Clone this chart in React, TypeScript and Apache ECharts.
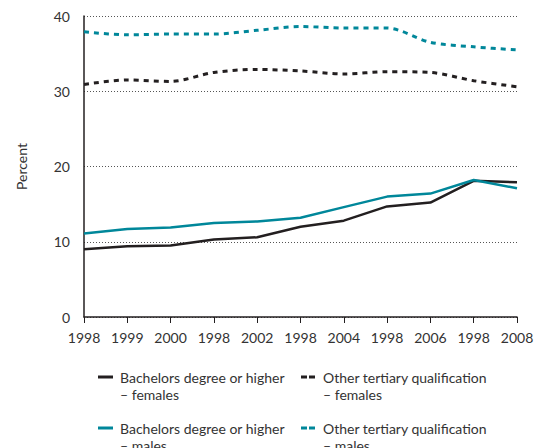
import React, { useEffect, useRef } from "react";
import * as echarts from "echarts";

const categories = ["1998", "1999", "2000", "1998", "2002", "1998", "2004", "1998", "2006", "1998", "2008"];
const bachelorsFemales = [9.0, 9.4, 9.5, 10.3, 10.6, 12.0, 12.8, 14.7, 15.2, 18.1, 17.9];
const bachelorsMales = [11.1, 11.7, 11.9, 12.5, 12.7, 13.2, 14.6, 16.0, 16.4, 18.2, 17.1];
const otherFemales = [30.9, 31.5, 31.3, 32.5, 32.9, 32.7, 32.3, 32.6, 32.5, 31.4, 30.6];
const otherMales = [37.9, 37.5, 37.6, 37.6, 38.1, 38.6, 38.4, 38.4, 36.5, 35.9, 35.5];
const yTicks = [0, 10, 20, 30, 40];

const names = [
  "Bachelors degree or higher\n– females",
  "Bachelors degree or higher\n– males",
  "Other tertiary qualification\n– females",
  "Other tertiary qualification\n– males",
];

const BLACK = "#231f20";
const TEAL = "#00879a";
const FONT = "Lato";

export default function App() {
  const ref = useRef<HTMLDivElement>(null);
  useEffect(() => {
    document.body.style.margin = "0";
    const chart = echarts.init(ref.current!, null, { renderer: "svg" });
    const legendItems = [
      { name: names[0], color: BLACK, dashed: false, x: 98, y: 377 },
      { name: names[1], color: TEAL, dashed: false, x: 98, y: 428 },
      { name: names[2], color: BLACK, dashed: true, x: 301, y: 377 },
      { name: names[3], color: TEAL, dashed: true, x: 301, y: 428 },
    ];
    const graphic: any[] = [];
    legendItems.forEach((it) => {
      graphic.push({
        type: "line",
        shape: { x1: it.x, y1: it.y, x2: it.x + 15, y2: it.y },
        style: { stroke: it.color, lineWidth: 3, lineDash: it.dashed ? [6, 2] : null },
        silent: true,
      });
      graphic.push({
        type: "text",
        x: it.x + 22,
        y: it.y - 8.5,
        style: {
          text: it.name,
          fontFamily: FONT,
          fontSize: 14,
          lineHeight: 17,
          fill: "#333",
          verticalAlign: "top",
        },
        silent: true,
      });
    });
    const line = (name: string, data: number[], color: string, dashed: boolean) => ({
      name,
      type: "line",
      data,
      showSymbol: false,
      symbol: "none",
      smooth: dashed ? 0.3 : false,
      lineStyle: { color, width: dashed ? 3 : 2.5, type: dashed ? [5, 5] : "solid" },
      itemStyle: { color },
    });
    chart.setOption({
      animation: false,
      textStyle: { fontFamily: FONT },
      grid: { left: 84, right: 24, top: 16, bottom: 131 },
      xAxis: {
        type: "category",
        data: categories,
        boundaryGap: false,
        axisLine: { lineStyle: { color: BLACK, width: 1.5 } },
        axisTick: { show: true, length: 6, lineStyle: { color: BLACK } },
        axisLabel: { fontFamily: FONT, fontSize: 14, color: "#333", margin: 13 },
      },
      yAxis: {
        type: "value",
        min: yTicks[0],
        max: yTicks[yTicks.length - 1],
        interval: 10,
        name: "Percent",
        nameLocation: "middle",
        nameGap: 56,
        nameTextStyle: { fontFamily: FONT, fontSize: 14, color: "#333" },
        axisLine: { show: true, lineStyle: { color: BLACK, width: 1.5 } },
        axisTick: { show: false },
        axisLabel: { fontFamily: FONT, fontSize: 14, color: "#333", margin: 14 },
        splitLine: { show: true, lineStyle: { color: "#555", type: [1, 2], width: 1 } },
      },
      graphic,
      series: [
        line(names[0], bachelorsFemales, BLACK, false),
        line(names[1], bachelorsMales, TEAL, false),
        line(names[2], otherFemales, BLACK, true),
        line(names[3], otherMales, TEAL, true),
      ],
    });
    return () => chart.dispose();
  }, []);
  return <div ref={ref} style={{ width: 541, height: 448 }} />;
}
